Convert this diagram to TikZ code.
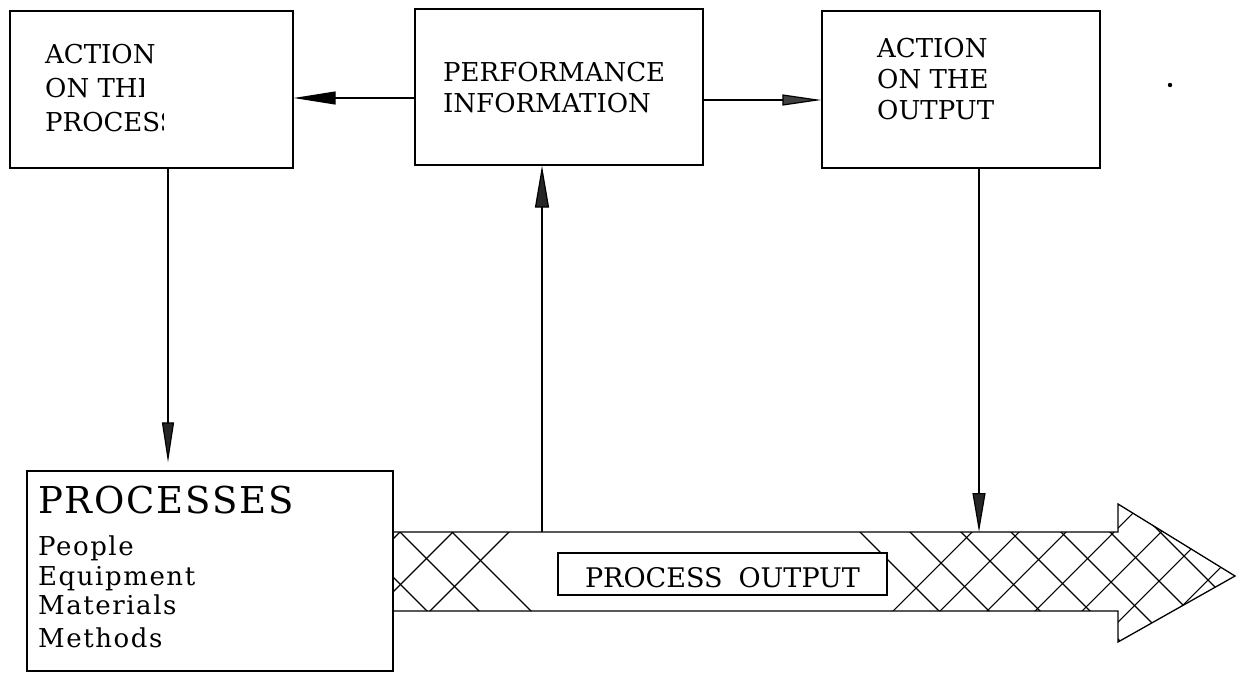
\documentclass[tikz,border=0pt]{standalone}
\usepackage{fontspec}
\usetikzlibrary{arrows.meta,calc}
\newfontfamily\dvs{DejaVu Serif}
\newfontfamily\dvsbig[LetterSpace=5]{DejaVu Serif}
\newfontfamily\dvslist[LetterSpace=6]{DejaVu Serif}
\newcommand\topfont{\dvs\fontsize{26}{31}\selectfont}
\newcommand\bigfont{\dvsbig\fontsize{37}{44}\selectfont}
\newcommand\listfont{\dvslist\fontsize{26}{30}\selectfont}
\newcommand\lblfont{\dvs\fontsize{27}{32}\selectfont}
\tikzset{
  box/.style={draw, line width=1.3pt, fill=white, inner sep=0pt},
  txt/.style={anchor=base west, inner sep=0pt, font=\topfont},
  listtxt/.style={anchor=base west, inner sep=0pt, font=\listfont},
  conn/.style={line width=1.2pt, draw=black, -{Triangle[length=40pt,width=12pt,fill=black!85]}},
  hatch/.style={line width=1.1pt},
  outline/.style={line width=1.3pt}
}
\begin{document}
\begin{tikzpicture}[x=1pt,y=-1pt]
\useasboundingbox (0,0) rectangle (1238,673);

% hatched process output arrow
\begin{scope}
  \clip (393,532) -- (1118,532) -- (1118,504) -- (1235,576) -- (1118,642) -- (1118,611) -- (393,611) -- cycle;
  \foreach \a in {-184,-132,-80,328,378,429,479,529,578,628,678,728}
    \draw[hatch] ({\a+490},490) -- ({\a+660},660);
  \foreach \b in {932,985,1041,1504,1551,1598,1646,1693,1740,1788,1835,1882}
    \draw[hatch] ({\b-660},660) -- ({\b-490},490);
\end{scope}
\draw[outline] (393,532) -- (1118,532) -- (1118,504) -- (1235,576) -- (1118,642) -- (1118,611) -- (393,611);

\node[box, minimum width=329pt, minimum height=42pt, text height=26pt, text depth=0pt, font=\lblfont]
  (lbl) at (722.5,574) {PROCESS\hspace{16pt}OUTPUT};

% boxes
\node[box, minimum width=283pt, minimum height=157pt] (box1) at (151.5,89.5) {};
\node[box, minimum width=288pt, minimum height=156pt] (box2) at (559,87) {};
\node[box, minimum width=278pt, minimum height=157pt] (box3) at (961,89.5) {};
\node[box, minimum width=366pt, minimum height=200pt] (proc) at (210,571) {};

% box texts
\node[txt] (t1a) at (45,63) {ACTION};
\begin{scope}
  \clip (0,70) rectangle (143.5,105);
  \node[txt] (t1b) at (45,97) {ON THE};
\end{scope}
\begin{scope}
  \clip (0,105) rectangle (163,140);
  \node[txt] (t1c) at (45,131) {PROCESS};
\end{scope}
\node[txt] (t2a) at (443,81) {PERFORMANCE};
\node[txt] (t2b) at (443,112) {INFORMATION};
\node[txt] (t3a) at (877,57) {ACTION};
\node[txt] (t3b) at (877,88) {ON THE};
\node[txt] (t3c) at (877,119) {OUTPUT};
\node[anchor=base west, inner sep=0pt, font=\bigfont] (t4a) at (38,513) {PROCESSES};
\node[listtxt] (t4b) at (38,555) {People};
\node[listtxt] (t4c) at (38,585) {Equipment};
\node[listtxt] (t4d) at (38,614) {Materials};
\node[listtxt] (t4e) at (38,647) {Methods};

% connectors
\coordinate (h1) at (0,98);
\draw[conn, -{Triangle[length=42pt,width=13pt,fill=black]}] (box2.west |- h1) -- (box1.east |- h1);
\coordinate (h2) at (0,100);
\draw[conn, -{Triangle[length=39pt,width=11pt,fill=black!75]}] (box2.east |- h2) -- (box3.west |- h2);
\coordinate (v1) at (168,0);
\draw[conn, shorten >=8pt] (box1.south -| v1) -- (proc.north -| v1);
\coordinate (up0) at (542,532);
\draw[conn, -{Triangle[length=42pt,width=14pt,fill=black!85]}] (up0) -- (box2.south -| up0);
\coordinate (dn0) at (979,532);
\draw[conn, -{Triangle[length=39pt,width=13pt,fill=black!85]}] (box3.south -| dn0) -- (dn0);

% speck
\fill (1170,85) circle (2.2pt);
\end{tikzpicture}
\end{document}
